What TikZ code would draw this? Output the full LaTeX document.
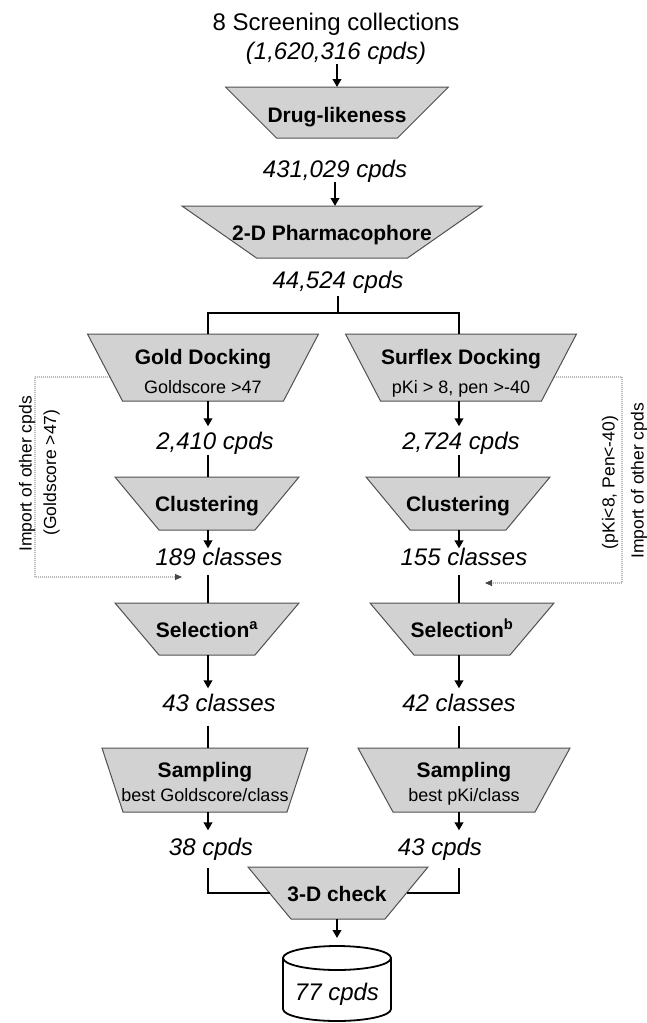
\documentclass[tikz,border=0pt]{standalone}
\usepackage{fontspec}
\setmainfont{Liberation Sans}
\usetikzlibrary{arrows.meta,calc}
\definecolor{boxgray}{RGB}{210,210,210}
\definecolor{boxedge}{RGB}{80,80,80}
\definecolor{dotgray}{RGB}{70,70,70}
\newcommand\mytrap[6]{% name, cx, cy, top width, height, inset
  \node[geom, minimum width=#4pt, minimum height=#5pt] (#1) at (#2,#3) {};
  \filldraw[trapfill] (#1.north west) -- (#1.north east) -- ([xshift=-#6pt]#1.south east) -- ([xshift=#6pt]#1.south west) -- cycle;
}
\tikzset{
  geom/.style={shape=rectangle, draw=none, inner sep=0pt, outer sep=0pt},
  trapfill/.style={fill=boxgray, draw=boxedge, line width=1pt, line join=miter},
  plain/.style={font=\fontsize{24}{28}\selectfont, inner sep=0pt, anchor=base},
  count/.style={font=\fontsize{24}{28}\selectfont\itshape, inner sep=0pt, anchor=base, text height=17pt, text depth=5pt},
  boxtitle/.style={font=\fontsize{21}{25}\selectfont\bfseries, inner sep=0pt, anchor=base},
  boxsub/.style={font=\fontsize{18}{21}\selectfont, inner sep=0pt, anchor=base},
  side/.style={font=\fontsize{17.5}{21}\selectfont, inner sep=0pt, anchor=base, rotate=90},
  conn/.style={line width=2pt, line cap=butt},
  branch/.style={line width=2.4pt, line join=miter},
  arr/.style={conn, -{Triangle[length=8pt,width=8.5pt]}},
  dots/.style={dotgray, line width=0.9pt, dash pattern=on 1pt off 1pt},
  cyl/.style={fill=white, draw=black, line width=1.8pt}
}
\begin{document}
\begin{tikzpicture}[x=1pt,y=-1pt]
\useasboundingbox (0,0) rectangle (647,1023);
% column coordinates
\coordinate (colL) at (208,0);
\coordinate (colR) at (459,0);
\coordinate (split) at (338,313);
% trapezoids
\mytrap{drug}{337}{112.5}{223}{51}{51}
\mytrap{pharma}{332}{232}{300}{52}{74.5}
\mytrap{gold}{203}{367.5}{231}{67}{35}
\mytrap{surf}{461}{367.5}{231}{67}{35}
\mytrap{clusL}{207}{503.5}{184}{53}{44}
\mytrap{clusR}{458}{503.5}{184}{53}{44}
\mytrap{selL}{207}{629}{184}{52}{44}
\mytrap{selR}{462}{629}{184}{52}{44}
\mytrap{sampL}{205}{780}{206}{64}{21}
\mytrap{sampR}{464}{780}{212}{64}{35}
\mytrap{three}{338}{893}{180}{52}{43}
% cylinder
\node[geom, minimum width=108pt, minimum height=75pt] (db) at (337,983.5) {};
\filldraw[cyl] ([yshift=-12pt]db.north west) -- ([yshift=12pt]db.south west)
  arc[start angle=180,end angle=360,x radius=54pt,y radius=12pt]
  -- ([yshift=-12pt]db.north east)
  arc[start angle=0,end angle=180,x radius=54pt,y radius=12pt] -- cycle;
\draw[cyl, fill=none] ([yshift=-12pt]db.north west) arc[start angle=180,end angle=360,x radius=54pt,y radius=12pt];
% texts
\node[plain] (ttl) at (336,30) {8 Screening collections};
\node[count] (n1620) at (336,59) {(1,620,316 cpds)};
\node[boxtitle] (drugT) at (337,122.5) {Drug-likeness};
\node[count] (n431) at (335,177) {431,029 cpds};
\node[boxtitle] (pharmaT) at (332,240.5) {2-D Pharmacophore};
\node[count] (n44) at (338,288) {44,524 cpds};
\node[boxtitle] (goldT) at (203,364.5) {Gold Docking};
\node[boxsub] (goldS) at (203,393.5) {Goldscore >47};
\node[boxtitle] (surfT) at (461,364.5) {Surflex Docking};
\node[boxsub] (surfS) at (461,393.5) {pKi > 8, pen >-40};
\node[count] (n2410) at (215,449.5) {2,410 cpds};
\node[count] (n2724) at (461,449.5) {2,724 cpds};
\node[boxtitle] (clusLT) at (207,511.5) {Clustering};
\node[boxtitle] (clusRT) at (458,511.5) {Clustering};
\node[count] (n189) at (219,565.6) {189 classes};
\node[count] (n155) at (464,565.6) {155 classes};
\node[boxtitle] (selLT) at (207,637.5) {Selection\textsuperscript{a}};
\node[boxtitle] (selRT) at (462,637.5) {Selection\textsuperscript{b}};
\node[count] (n43c) at (219,711.6) {43 classes};
\node[count] (n42c) at (459,711.6) {42 classes};
\node[boxtitle] (sampLT) at (205,777.5) {Sampling};
\node[boxsub] (sampLS) at (205,801.5) {best Goldscore/class};
\node[boxtitle] (sampRT) at (464,777.5) {Sampling};
\node[boxsub] (sampRS) at (464,801.5) {best pKi/class};
\node[count] (n38) at (211,855.6) {38 cpds};
\node[count] (n43) at (440,855.6) {43 cpds};
\node[boxtitle] (threeT) at (337,901.5) {3-D check};
\node[count] (n77) at (337,1000.6) {77 cpds};
% side labels
\node[side] (impL) at (31.5,474) {Import of other cpds};
\node[side] (gsL) at (56,472.5) {(Goldscore >47)};
\node[side] (pkR) at (614.5,482.5) {(pKi<8, Pen<-40)};
\node[side] (impR) at (643.5,481) {Import of other cpds};
% top connectors
\draw[arr] (n1620.south -| drug.north) -- (drug.north);
\draw[arr] (n431.south) -- (n431.south |- pharma.north);
\draw[branch, shorten <=3pt] (n44.south -| split) -- (split);
\draw[branch] (gold.north -| colL) |- (split) -| (surf.north -| colR);
% left column
\draw[arr, shorten >=6pt] (gold.south -| colL) -- (n2410.north -| colL);
\draw[conn] (n2410.south -| colL) -- (clusL.north -| colL);
\draw[arr] (clusL.south -| colL) -- (n189.north -| colL);
\draw[conn, shorten <=4pt] (n189.south -| colL) -- (selL.north -| colL);
\draw[arr, shorten >=6pt] (selL.south -| colL) -- (n43c.north -| colL);
\draw[conn, shorten <=9pt] (n43c.south -| colL) -- (sampL.north -| colL);
\draw[arr, shorten >=8pt] (sampL.south -| colL) -- (n38.north -| colL);
% right column
\draw[arr, shorten >=6pt] (surf.south -| colR) -- (n2724.north -| colR);
\draw[conn] (n2724.south -| colR) -- (clusR.north -| colR);
\draw[arr] (clusR.south -| colR) -- (n155.north -| colR);
\draw[conn, shorten <=4pt] (n155.south -| colR) -- (selR.north -| colR);
\draw[arr, shorten >=6pt] (selR.south -| colR) -- (n42c.north -| colR);
\draw[conn, shorten <=9pt] (n42c.south -| colR) -- (sampR.north -| colR);
\draw[arr, shorten >=8pt] (sampR.south -| colR) -- (n43.north -| colR);
% merge
\coordinate (threeL) at ($(three.north west)!0.5!([xshift=43pt]three.south west)$);
\coordinate (threeR) at ($(three.north east)!0.5!([xshift=-43pt]three.south east)$);
\draw[branch, shorten <=7pt] (n38.south -| colL) |- (threeL);
\draw[branch, shorten <=7pt] (n43.south -| colR) |- (threeR);
\draw[arr, shorten >=8pt] (three.south -| db.north) -- (db.north);
% dotted import lines
\coordinate (goldEdge) at ($(gold.north west)!0.642!([xshift=35pt]gold.south west)$);
\coordinate (surfEdge) at ($(surf.north east)!0.642!([xshift=-35pt]surf.south east)$);
\coordinate (dL1) at (35,377);
\coordinate (dL2) at (35,577);
\coordinate (dL3) at (182,577);
\coordinate (dR1) at (622,377);
\coordinate (dR2) at (622,583);
\coordinate (dR3) at (485,583);
\draw[dots, -{Triangle[length=7pt,width=6pt]}] (goldEdge) -- (dL1) -- (dL2) -- (dL3);
\draw[dots, -{Triangle[length=7pt,width=6pt]}] (surfEdge) -- (dR1) -- (dR2) -- (dR3);
\end{tikzpicture}
\end{document}
